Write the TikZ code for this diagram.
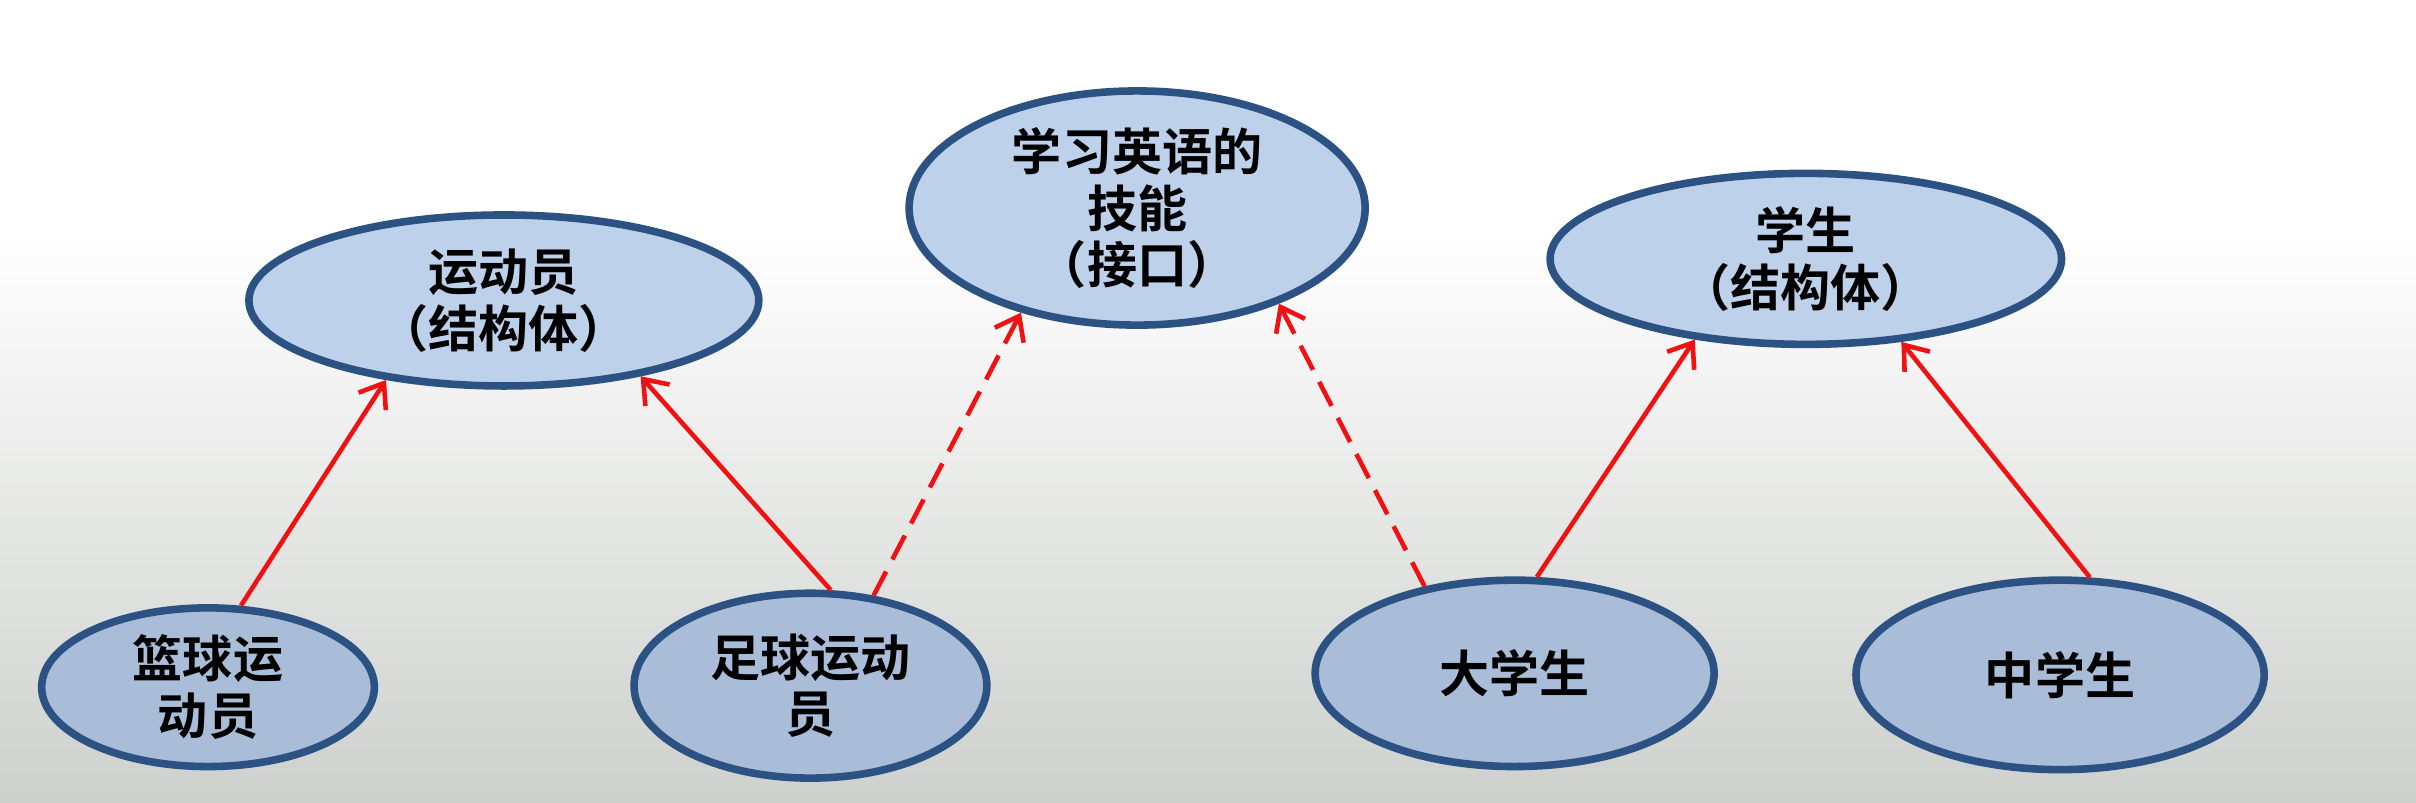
\documentclass[tikz,border=0pt]{standalone}
\usepackage{fontspec}
\newfontfamily\cjk{Noto Sans CJK SC}[BoldFont={Noto Sans CJK SC Bold}]
\usetikzlibrary{shapes.geometric, arrows.meta}

\definecolor{ovalline}{HTML}{2B5283}
\definecolor{ovalfill}{HTML}{BDD1EB}
\definecolor{ovallow}{HTML}{A9BDD9}
\definecolor{linkred}{HTML}{F01212}
\definecolor{bgbottom}{HTML}{CDD0CC}

\begin{document}
\begin{tikzpicture}[
    x=0.02cm, y=-0.02cm,
    font=\cjk\bfseries\fontsize{18.5}{21}\selectfont,
    oval/.style={ellipse, draw=ovalline, line width=2.8pt, fill=ovalfill, inner sep=0pt, align=center},
    ovallow/.style={oval, fill=ovallow},
    isa/.style={-{Straight Barb[length=8pt, width=12pt]}, line width=1.7pt, draw=linkred},
    impl/.style={isa, dash pattern=on 10pt off 5pt}
]

% Background
\useasboundingbox (0,0) rectangle (1568,521);
\fill[white] (0,0) rectangle (1568,521);
\shade[top color=white, bottom color=bgbottom] (0,150) rectangle (1568,521);

% Parent types (top row)
\node[oval, minimum width=6.62cm, minimum height=2.22cm] (athlete) at (327,195) {运动员\\（结构体）};
\node[oval, minimum width=5.92cm, minimum height=3.04cm] (english) at (738,135) {学习英语的\\技能\\（接口）};
\node[oval, minimum width=6.64cm, minimum height=2.22cm] (student) at (1172,168) {学生\\（结构体）};

% Concrete types (bottom row)
\node[ovallow, minimum width=4.32cm, minimum height=2.06cm] (basket) at (135,446) {篮球运\\动员};
\node[ovallow, minimum width=4.58cm, minimum height=2.40cm] (soccer) at (526,445) {足球运动\\员};
\node[ovallow, minimum width=5.18cm, minimum height=2.42cm] (college) at (983,437) {大学生};
\node[ovallow, minimum width=5.30cm, minimum height=2.46cm] (middle) at (1337,438) {中学生};

% Connections
\draw[isa] (basket.68) -- (athlete.214);
\draw[isa] (soccer.78) -- (athlete.331);
\draw[impl] (soccer.55) -- (english.222);
\draw[impl] (college.136) -- (english.326);
\draw[isa] (college.77) -- (student.216);
\draw[isa] (middle.73) -- (student.319);

\end{tikzpicture}
\end{document}
